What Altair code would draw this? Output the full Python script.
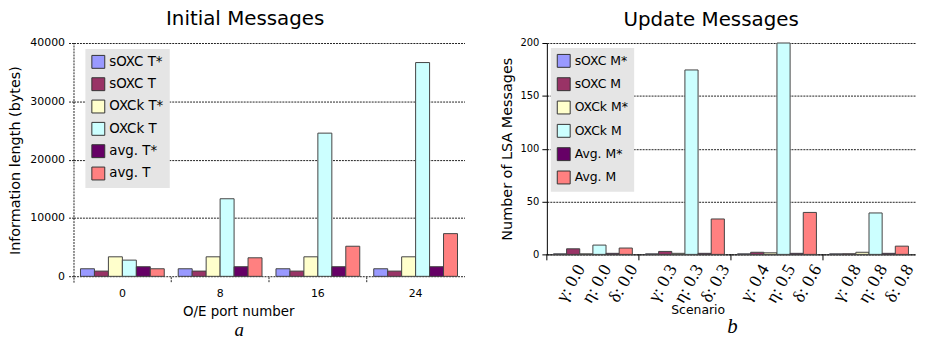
import altair as alt
import pandas as pd

# ---------------- data: Initial Messages ----------------
ports = ["0", "8", "16", "24"]
init_series = ["sOXC T*", "sOXC T", "OXCk T*", "OXCk T", "avg. T*", "avg. T"]
init_sOXC_Tstar = [1300, 1300, 1300, 1300]
init_sOXC_T = [900, 900, 900, 900]
init_OXCk_Tstar = [3350, 3350, 3350, 3350]
init_OXCk_T = [2780, 13300, 24550, 36650]
init_avg_Tstar = [1650, 1650, 1650, 1650]
init_avg_T = [1300, 3180, 5160, 7320]

# ---------------- data: Update Messages ----------------
scenarios = ["S1", "S2", "S3", "S4"]
upd_series = ["sOXC M*", "sOXC M", "OXCk M*", "OXCk M", "Avg. M*", "Avg. M"]
upd_sOXC_Mstar = [0.5, 0.5, 0.5, 0.5]
upd_sOXC_M = [5.3, 2.8, 2.0, 0.6]
upd_OXCk_Mstar = [0.5, 1.0, 1.5, 2.0]
upd_OXCk_M = [8.8, 174.5, 200, 39.2]
upd_avg_Mstar = [1.0, 1.0, 1.0, 1.0]
upd_avg_M = [6.0, 33.5, 39.7, 7.8]

scenario_labels = [
    ["γ: 0.0", "η: 0.0", "δ: 0.0"],
    ["γ: 0.3", "η: 0.3", "δ: 0.3"],
    ["γ: 0.4", "η: 0.5", "δ: 0.6"],
    ["γ: 0.8", "η: 0.8", "δ: 0.8"],
]
label_slots = ["sOXC M", "OXCk M", "Avg. M"]

colors = ["#9999ff", "#993366", "#ffffcc", "#ccffff", "#660066", "#ff8080"]

FONT = "DejaVu Sans"
SERIF = "Liberation Serif"

# ---------------- tables ----------------
init_vals = [init_sOXC_Tstar, init_sOXC_T, init_OXCk_Tstar, init_OXCk_T, init_avg_Tstar, init_avg_T]
left_df = pd.DataFrame(
    [{"port": p, "series": s, "value": v[i]} for s, v in zip(init_series, init_vals) for i, p in enumerate(ports)]
)
upd_vals = [upd_sOXC_Mstar, upd_sOXC_M, upd_OXCk_Mstar, upd_OXCk_M, upd_avg_Mstar, upd_avg_M]
right_df = pd.DataFrame(
    [{"scen": c, "series": s, "value": v[i]} for s, v in zip(upd_series, upd_vals) for i, c in enumerate(scenarios)]
)
lab_df = pd.DataFrame(
    [{"scen": c, "series": label_slots[j], "label": scenario_labels[i][j]}
     for i, c in enumerate(scenarios) for j in range(3)]
)

# ---------------- left panel ----------------
LW, LH = 394, 241
x_axis_l = alt.Axis(title="O/E port number", labelAngle=0, ticks=False, domain=False,
                    labelFontSize=11, labelPadding=5, titleFontSize=13.5, titleFontWeight="normal",
                    titleX=166, titleY=30, titleBaseline="middle")
x_scale_l = alt.Scale(domain=ports, paddingInner=0, paddingOuter=0)

bars_l = alt.Chart(left_df).mark_bar(stroke="#444", strokeWidth=1).encode(
    x=alt.X("port:N", sort=ports, scale=x_scale_l, axis=x_axis_l),
    xOffset=alt.XOffset("series:N", sort=init_series,
                        scale=alt.Scale(domain=init_series, paddingInner=0, paddingOuter=0.5)),
    y=alt.Y("value:Q", scale=alt.Scale(domain=[-1000, 40000], nice=False, zero=False),
            axis=alt.Axis(values=[0, 10000, 20000, 30000, 40000], format="d",
                          title="Information length (bytes)", titleFontSize=14.5, titleFontWeight="normal",
                          titlePadding=7, titleY=118,
                          labelFontSize=11, labelPadding=4, tickSize=5, tickDash=[2, 1], tickColor="#222",
                          domainDash=[2, 1], domainColor="#222",
                          grid=True, gridDash=[2, 1], gridColor="#222", gridOpacity=1)),
    color=alt.Color("series:N", sort=init_series, scale=alt.Scale(domain=init_series, range=colors),
                    legend=alt.Legend(title=None, orient="none", legendX=12, legendY=6,
                                      fillColor="#e5e5e5", padding=6, symbolType="square",
                                      symbolSize=169, symbolStrokeColor="#333", symbolStrokeWidth=1,
                                      labelFontSize=13.5, labelOffset=4, rowPadding=4.5,
                                      labelFont=FONT, labelColor="black")),
)
ticks_l = alt.Chart(pd.DataFrame({"port": ports[1:]})).mark_rule(
    color="#222", strokeDash=[2, 1], strokeWidth=1
).encode(
    x=alt.X("port:N", sort=ports, bandPosition=0, scale=x_scale_l, axis=x_axis_l),
    y=alt.value(LH - 5), y2=alt.value(LH + 1),
)
letter_a = alt.Chart(pd.DataFrame({"t": ["a"]})).mark_text(
    font=SERIF, fontStyle="italic", fontSize=19, baseline="alphabetic", align="center"
).encode(text="t:N", x=alt.value(167), y=alt.value(295))

left = alt.layer(bars_l, ticks_l, letter_a).properties(
    width=LW, height=LH,
    title=alt.TitleParams("Initial Messages", fontSize=20, font=FONT, fontWeight="normal", offset=8, dx=-24),
)

# ---------------- right panel ----------------
RW, RH = 371, 213
x_axis_r = alt.Axis(title="Scenario", labels=False, ticks=False, domain=True, domainColor="black",
                    titleFontSize=12.5, titleFontWeight="normal",
                    titleX=152, titleY=56, titleBaseline="middle")
x_scale_r = alt.Scale(domain=scenarios, paddingInner=0, paddingOuter=0)

bars_r = alt.Chart(right_df).mark_bar(stroke="#444", strokeWidth=1).encode(
    x=alt.X("scen:N", sort=scenarios, scale=x_scale_r, axis=x_axis_r),
    xOffset=alt.XOffset("series:N", sort=upd_series,
                        scale=alt.Scale(domain=upd_series, paddingInner=0, paddingOuter=0.5)),
    y=alt.Y("value:Q", scale=alt.Scale(domain=[0, 200], nice=False),
            axis=alt.Axis(values=[0, 50, 100, 150, 200], title="Number of LSA Messages",
                          titleFontSize=14.5, titleFontWeight="normal", titlePadding=6,
                          labelFontSize=10, labelPadding=3, tickSize=5, tickColor="black",
                          domainColor="black",
                          grid=True, gridDash=[2, 1], gridColor="#222", gridOpacity=1)),
    color=alt.Color("series:N", sort=upd_series, scale=alt.Scale(domain=upd_series, range=colors),
                    legend=alt.Legend(title=None, orient="none", legendX=4, legendY=5,
                                      fillColor="#e5e5e5", padding=6, symbolType="square",
                                      symbolSize=169, symbolStrokeColor="#333", symbolStrokeWidth=1,
                                      labelFontSize=12.5, labelOffset=4, rowPadding=5.5,
                                      labelFont=FONT, labelColor="black")),
)
ticks_r = alt.Chart(pd.DataFrame({"scen": scenarios})).mark_rule(color="black", strokeWidth=1).encode(
    x=alt.X("scen:N", sort=scenarios, bandPosition=0, scale=x_scale_r, axis=x_axis_r),
    y=alt.value(RH), y2=alt.value(RH + 6),
)
labels_r = alt.Chart(lab_df).mark_text(
    angle=300, align="right", baseline="middle", font=SERIF, fontSize=18, dx=4, dy=6.9, color="black"
).encode(
    x=alt.X("scen:N", sort=scenarios, scale=x_scale_r, axis=x_axis_r),
    xOffset=alt.XOffset("series:N"),
    y=alt.value(225),
    text="label:N",
)
letter_b = alt.Chart(pd.DataFrame({"t": ["b"]})).mark_text(
    font=SERIF, fontStyle="italic", fontSize=21, baseline="middle", align="center"
).encode(text="t:N", x=alt.value(187), y=alt.value(286))

right = alt.layer(bars_r, ticks_r, labels_r, letter_b).properties(
    width=RW, height=RH,
    title=alt.TitleParams("Update Messages", fontSize=20, font=FONT, fontWeight="normal", offset=8, dx=-20),
)

chart = alt.hconcat(left, right, spacing=34).resolve_scale(
    color="independent", x="independent", y="independent", xOffset="independent"
).properties(
    padding={"left": 0, "top": 0, "right": 0, "bottom": 0}
).configure_view(stroke=None).configure_axis(
    labelFont=FONT, titleFont=FONT, labelColor="black", titleColor="black"
).configure_title(color="black")

chart.save("out.html", embed_options={"renderer": "svg", "actions": False})
